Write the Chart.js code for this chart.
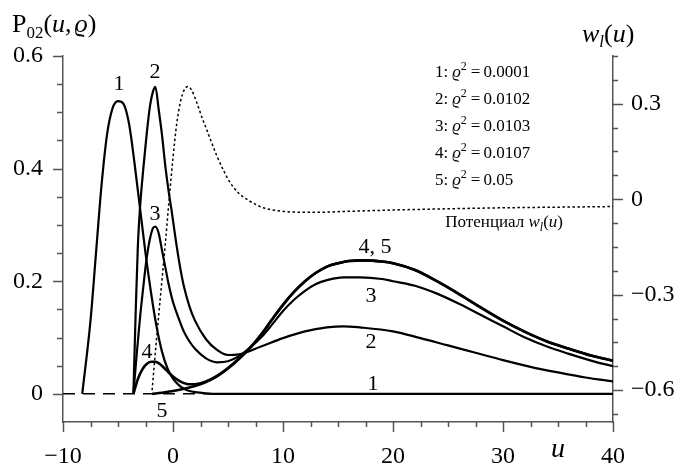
<!DOCTYPE html>
<html>
<head>
<meta charset="utf-8">
<script src="https://cdn.jsdelivr.net/npm/chart.js@4"></script>
<style>
  html, body { margin: 0; padding: 0; background: #fff; }
  canvas { display: block; }
</style>
</head>
<body>
<canvas id="chart" width="675" height="465"></canvas>
<script>
// --- данные ---
const uTicks = [-10, 0, 10, 20, 30, 40];
const pTicks = [0, 0.2, 0.4, 0.6];
const wTicks = [-0.6, -0.3, 0, 0.3];

const legendRho = ['0.0001', '0.0102', '0.0103', '0.0107', '0.05'];

// кривая 1: rho^2 = 0.0001
const u1 = [-8.25, -7.5, -7, -6.5, -6, -5.5, -5, -4.5, -4, -3.5, -3, -2.5, -2, -1.5, -1, -0.5, 0, 0.5, 1, 1.5, 2, 3, 4, 6, 40];
const p1 = [0, 0.13, 0.25, 0.37, 0.46, 0.507, 0.52, 0.515, 0.48, 0.41, 0.33, 0.25, 0.18, 0.12, 0.075, 0.045, 0.027, 0.016, 0.009, 0.005, 0.003, 0.001, 0, 0, 0];

// кривая 2: rho^2 = 0.0102
const u2 = [-3.6, -3.4, -3.2, -3.0, -2.7, -2.4, -2.1, -1.8, -1.6, -1.3, -1.0, -0.7, -0.4, -0.1, 0.2, 0.6, 1, 1.5, 2, 3, 4, 5, 6, 8, 10, 12, 14, 15.5, 17, 20, 22.5, 25, 27.5, 30, 32.5, 35, 37.5, 40];
const p2 = [0, 0.14, 0.26, 0.33, 0.40, 0.46, 0.51, 0.538, 0.545, 0.505, 0.46, 0.405, 0.36, 0.322, 0.28, 0.23, 0.19, 0.155, 0.13, 0.097, 0.078, 0.069, 0.07, 0.084, 0.099, 0.111, 0.118, 0.12, 0.118, 0.111, 0.099, 0.086, 0.073, 0.06, 0.048, 0.038, 0.029, 0.022];

// кривая 3: rho^2 = 0.0103
const u3 = [-3.6, -3.3, -3.0, -2.7, -2.4, -2.1, -1.8, -1.6, -1.3, -1.0, -0.7, -0.4, 0, 0.5, 1, 1.5, 2, 3, 4, 5, 6, 7, 8, 9, 10, 11, 12, 13, 14, 15.5, 17, 19, 20, 22, 24, 26, 28, 30, 32, 34, 36, 38, 40];
const p3 = [0, 0.07, 0.135, 0.19, 0.24, 0.275, 0.295, 0.297, 0.285, 0.255, 0.225, 0.195, 0.163, 0.135, 0.11, 0.093, 0.08, 0.063, 0.056, 0.058, 0.067, 0.082, 0.1, 0.123, 0.147, 0.167, 0.183, 0.195, 0.202, 0.207, 0.207, 0.204, 0.2, 0.192, 0.178, 0.16, 0.14, 0.12, 0.1, 0.084, 0.071, 0.059, 0.049];

// кривая 4: rho^2 = 0.0107
const u4 = [-3.6, -3.2, -2.8, -2.4, -2.0, -1.6, -1.2, -0.8, -0.4, 0, 0.5, 1, 1.5, 2, 2.5, 3, 4, 5, 6, 7, 8, 9, 10, 11, 12, 13, 14, 15, 16, 17.5, 19, 20, 22, 24, 26, 28, 30, 32, 34, 36, 38, 40];
const p4 = [0, 0.026, 0.043, 0.053, 0.057, 0.057, 0.053, 0.046, 0.038, 0.031, 0.024, 0.019, 0.017, 0.017, 0.019, 0.022, 0.032, 0.046, 0.063, 0.082, 0.105, 0.132, 0.158, 0.181, 0.2, 0.215, 0.226, 0.232, 0.236, 0.237, 0.235, 0.232, 0.22, 0.2, 0.177, 0.153, 0.13, 0.11, 0.093, 0.08, 0.068, 0.059];

// кривая 5: rho^2 = 0.05
const u5 = [-1.9, -1, 0, 1, 2, 3, 4, 5, 6, 7, 8, 9, 10, 11, 12, 13, 14, 15, 16, 17.5, 19, 20, 22, 24, 26, 28, 30, 32, 34, 36, 38, 40];
const p5 = [0, 0.002, 0.005, 0.009, 0.014, 0.021, 0.031, 0.045, 0.062, 0.081, 0.105, 0.132, 0.158, 0.181, 0.2, 0.215, 0.226, 0.232, 0.236, 0.237, 0.235, 0.232, 0.22, 0.2, 0.177, 0.153, 0.13, 0.11, 0.093, 0.08, 0.068, 0.059];

// потенциал w_l(u), правая ось
const uW = [-1.9, -1.5, -1.1, -0.7, -0.35, 0, 0.35, 0.7, 1.0, 1.35, 1.7, 2.2, 2.6, 3.1, 3.6, 4.0, 4.6, 5.2, 6.0, 6.7, 7.5, 8.2, 9.5, 10.7, 13, 16, 20, 25, 30, 35, 40];
const wW = [-0.6, -0.44, -0.29, -0.14, 0.0, 0.13, 0.24, 0.31, 0.342, 0.354, 0.342, 0.3, 0.26, 0.215, 0.17, 0.135, 0.09, 0.052, 0.018, 0, -0.016, -0.027, -0.036, -0.04, -0.041, -0.038, -0.034, -0.03, -0.027, -0.025, -0.023];

// линия нуля (штрих)
const uZero = [-10, 40];
const pZero = [0, 0];

const SERIF = '"Liberation Serif", "Times New Roman", "DejaVu Serif", serif';
const AXIS = '#555';

const toPoints = (us, vs) => us.map((u, i) => ({ x: u, y: vs[i] }));
const fmt = v => (v < 0 ? '\u2212' : '') + String(Math.abs(Math.round(v * 100) / 100));

const curve = (us, vs, extra) => Object.assign({
    data: toPoints(us, vs),
    yAxisID: 'y',
    borderColor: '#000',
    borderWidth: 2.2,
    pointRadius: 0,
    fill: false,
    cubicInterpolationMode: 'monotone'
}, extra || {});

// текст из кусков разного начертания
function drawRuns(ctx, x, y, runs, align) {
    const fontOf = r => (r.italic ? 'italic ' : '') + r.size + 'px ' + SERIF;
    let total = 0;
    runs.forEach(r => {
        ctx.font = fontOf(r);
        total += (r.t ? ctx.measureText(r.t).width : 0) + (r.gap || 0);
    });
    let cx = x;
    if (align === 'center') cx = x - total / 2;
    if (align === 'right') cx = x - total;
    ctx.textAlign = 'left';
    ctx.textBaseline = 'alphabetic';
    runs.forEach(r => {
        ctx.font = fontOf(r);
        if (r.t) {
            ctx.fillText(r.t, cx, y + (r.dy || 0));
            cx += ctx.measureText(r.t).width;
        }
        cx += r.gap || 0;
    });
}

const decorPlugin = {
    id: 'decor',
    afterDraw(chart) {
        const { ctx, chartArea, scales } = chart;
        const sx = scales.x, sy = scales.y, sw = scales.y2;
        ctx.save();

        // засечки
        ctx.strokeStyle = AXIS;
        ctx.lineWidth = 1.5;
        ctx.beginPath();
        for (let i = -4; i <= 16; i++) {
            const px = Math.round(sx.getPixelForValue(i * 2.5)) + 0.5;
            const len = i % 4 === 0 ? 10 : 5;
            ctx.moveTo(px, chartArea.bottom);
            ctx.lineTo(px, chartArea.bottom + len);
        }
        for (let i = 0; i <= 12; i++) {
            const py = Math.round(sy.getPixelForValue(i * 0.05)) + 0.5;
            const len = i % 4 === 0 ? 10 : 6;
            ctx.moveTo(chartArea.left, py);
            ctx.lineTo(chartArea.left - len, py);
        }
        for (let i = -9; i <= 6; i++) {
            const py = Math.round(sw.getPixelForValue(i * 0.075)) + 0.5;
            const len = i % 4 === 0 ? 10 : 5;
            ctx.moveTo(chartArea.right, py);
            ctx.lineTo(chartArea.right + len, py);
        }
        ctx.stroke();

        ctx.fillStyle = '#000';

        // подписи осей
        drawRuns(ctx, 12, 32, [
            { t: 'P', size: 26 },
            { t: '02', size: 17, dy: 6 },
            { t: '(', size: 26 },
            { t: 'u', size: 26, italic: true },
            { t: ',', size: 26, gap: 3 },
            { t: '\u03F1', size: 26, italic: true },
            { t: ')', size: 26 }
        ]);
        drawRuns(ctx, 582, 42, [
            { t: 'w', size: 26, italic: true },
            { t: 'l', size: 17, italic: true, dy: 5 },
            { t: '(', size: 26 },
            { t: 'u', size: 26, italic: true },
            { t: ')', size: 26 }
        ]);
        drawRuns(ctx, 558, 457, [{ t: 'u', size: 28, italic: true }], 'center');

        // легенда
        legendRho.forEach((val, i) => {
            drawRuns(ctx, 435, 77 + i * 27, [
                { t: (i + 1) + ':', size: 17, gap: 4 },
                { t: '\u03F1', size: 17, italic: true },
                { t: '2', size: 12, dy: -7, gap: 4 },
                { t: '=', size: 17, gap: 3 },
                { t: val, size: 17 }
            ]);
        });

        drawRuns(ctx, 563, 227, [
            { t: 'Потенциал ', size: 17 },
            { t: 'w', size: 17, italic: true },
            { t: 'l', size: 12, italic: true, dy: 4 },
            { t: '(', size: 17 },
            { t: 'u', size: 17, italic: true },
            { t: ')', size: 17 }
        ], 'right');

        // номера кривых
        const marks = [
            ['1', 119, 90], ['2', 155, 78], ['3', 155, 220], ['4', 147, 358], ['5', 162, 417],
            ['4, 5', 375, 253], ['3', 371, 302], ['2', 371, 348], ['1', 373, 390]
        ];
        marks.forEach(([t, x, y]) => drawRuns(ctx, x, y, [{ t, size: 22 }], 'center'));

        ctx.restore();
    }
};

const tickFont = { family: SERIF, size: 24 };

new Chart(document.getElementById('chart'), {
    type: 'line',
    data: {
        datasets: [
            curve(u1, p1),
            curve(u2, p2),
            curve(u3, p3),
            curve(u4, p4, { borderWidth: 2.6 }),
            curve(u5, p5, { borderWidth: 2.6 }),
            curve(uW, wW, { yAxisID: 'y2', borderWidth: 1.5, borderDash: [2.5, 2.5] }),
            curve(uZero, pZero, { borderWidth: 1.5, borderDash: [12, 8] })
        ]
    },
    options: {
        responsive: false,
        devicePixelRatio: 1,
        animation: false,
        layout: { padding: { top: 56, left: 0, right: 0, bottom: 0 } },
        plugins: { legend: { display: false }, tooltip: { enabled: false } },
        scales: {
            x: {
                type: 'linear', position: 'bottom', min: -10, max: 40,
                grid: { display: false, drawTicks: false },
                border: { display: true, color: AXIS, width: 1.5 },
                ticks: { autoSkip: false, maxRotation: 0, padding: 20, color: '#000', font: tickFont, callback: fmt },
                afterBuildTicks: s => { s.ticks = uTicks.map(v => ({ value: v })); },
                afterFit: s => { s.height = 43; }
            },
            y: {
                type: 'linear', position: 'left', min: -0.05, max: 0.6,
                grid: { display: false, drawTicks: false },
                border: { display: true, color: AXIS, width: 1.5 },
                ticks: { padding: 20, color: '#000', font: tickFont, callback: fmt },
                afterBuildTicks: s => { s.ticks = pTicks.map(v => ({ value: v })); },
                afterFit: s => { s.width = 63; }
            },
            y2: {
                type: 'linear', position: 'right', min: -0.7, max: 0.45,
                grid: { display: false, drawTicks: false },
                border: { display: true, color: AXIS, width: 1.5 },
                ticks: { padding: 18, color: '#000', font: tickFont, callback: fmt },
                afterBuildTicks: s => { s.ticks = wTicks.map(v => ({ value: v })); },
                afterFit: s => { s.width = 62; }
            }
        }
    },
    plugins: [decorPlugin]
});
</script>
</body>
</html>
